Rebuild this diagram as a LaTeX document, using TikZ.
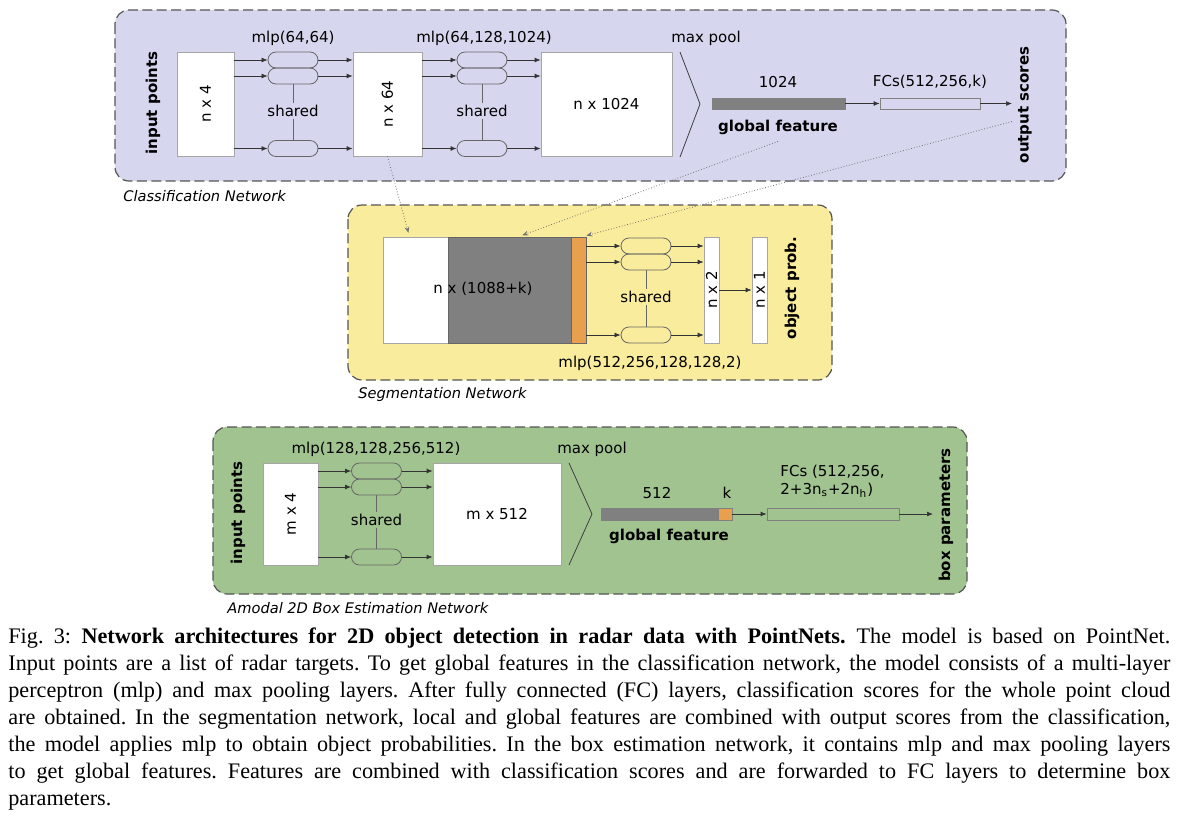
\documentclass[tikz,border=0pt]{standalone}
\usepackage{fontspec}
\setmainfont{Liberation Serif}
\newfontfamily\dvs{DejaVu Sans}
\usetikzlibrary{arrows.meta}
\definecolor{clsbg}{RGB}{214,214,238}
\definecolor{segbg}{RGB}{249,236,156}
\definecolor{boxbg}{RGB}{161,195,144}
\definecolor{feat}{RGB}{128,128,128}
\definecolor{score}{RGB}{233,160,78}
\definecolor{rim}{RGB}{85,85,85}

\begin{document}
\begin{tikzpicture}[x=0.5pt,y=-0.5pt,
		every node/.style={font=\dvs\fontsize{7.5}{9}\selectfont},
		panel/.style={draw=rim,line width=0.6pt,dash pattern=on 5pt off 2.2pt,rounded corners=7pt},
		blk/.style={draw=black!35,line width=0.35pt,fill=white,inner sep=0pt},
		pill/.style={draw=black!60,line width=0.4pt,rounded corners=4pt,minimum width=25pt,minimum height=8pt,inner sep=0pt},
		bar/.style={draw=black!50,line width=0.35pt,inner sep=0pt},
		flow/.style={draw=black!80,line width=0.35pt,-{Latex[length=3pt,width=2.4pt]}},
		link/.style={draw=black!55,line width=0.4pt,densely dotted,-{Stealth[length=3pt,width=2.4pt]},shorten >=2pt},
		boldlbl/.style={font=\dvs\bfseries\fontsize{7.5}{9}\selectfont},
		nettitle/.style={font=\dvs\itshape\fontsize{7.3}{9}\selectfont,anchor=west,inner sep=0pt},
		sharedtxt/.style={fill=#1,inner sep=1pt}]
	\useasboundingbox (0,0) rectangle (1179,826);
	
	% classification network
	\draw[panel,fill=clsbg] (115,10) rectangle (1066,181);
	\node[boldlbl,rotate=90] at (153,103) {input points};
	\node[blk,minimum width=28.5pt,minimum height=52pt] (cin) at (205.5,104) {\rotatebox{90}{n x 4}};
	\node[blk,minimum width=34.5pt,minimum height=52pt] (cf64) at (387.5,104) {\rotatebox{90}{n x 64}};
	\node[blk,minimum width=65.5pt,minimum height=52pt] (cf1024) at (606.5,104) {n x 1024};
	\node[pill] (ca1) at (293,60) {};
	\node[pill] (ca2) at (293,76) {};
	\node[pill] (ca3) at (293,148.5) {};
	\node[pill] (cb1) at (482,60) {};
	\node[pill] (cb2) at (482,76) {};
	\node[pill] (cb3) at (482,148.5) {};
	\draw[black!60,line width=0.4pt] (ca2) -- (ca3);
	\draw[black!60,line width=0.4pt] (cb2) -- (cb3);
	\node[sharedtxt=clsbg] at (293,111) {shared};
	\node[sharedtxt=clsbg] at (482,111) {shared};
	\node at (293,38) {mlp(64,64)};
	\node at (484,38) {mlp(64,128,1024)};
	\draw[flow] (cin.east |- ca1) -- (ca1);
	\draw[flow] (cin.east |- ca2) -- (ca2);
	\draw[flow] (cin.east |- ca3) -- (ca3);
	\draw[flow] (ca1) -- (cf64.west |- ca1);
	\draw[flow] (ca2) -- (cf64.west |- ca2);
	\draw[flow] (ca3) -- (cf64.west |- ca3);
	\draw[flow] (cf64.east |- cb1) -- (cb1);
	\draw[flow] (cf64.east |- cb2) -- (cb2);
	\draw[flow] (cf64.east |- cb3) -- (cb3);
	\draw[flow] (cb1) -- (cf1024.west |- cb1);
	\draw[flow] (cb2) -- (cf1024.west |- cb2);
	\draw[flow] (cb3) -- (cf1024.west |- cb3);
	\draw[black!75,line width=0.4pt] (680,52) -- (700,104) -- (680,157);
	\node at (706,38) {max pool};
	\node[bar,fill=feat,minimum width=66.5pt,minimum height=5.5pt] (cgf) at (778.5,103.5) {};
	\node at (778,82) {1024};
	\node[boldlbl] (cgflbl) at (778,127) {global feature};
	\node[bar,minimum width=50pt,minimum height=5.5pt] (cfc) at (930,103.5) {};
	\node at (930,82) {FCs(512,256,k)};
	\coordinate (cend) at (1012,103.5);
	\draw[flow] (cgf) -- (cfc);
	\draw[flow] (cfc) -- (cend);
	\node[boldlbl,rotate=90] at (1025,105) {output scores};
	\node[nettitle] at (123,196) {Classification Network};
	
	% segmentation network
	\draw[panel,fill=segbg] (348,205) rectangle (832,380);
	\node[blk,minimum width=32.5pt,minimum height=53pt] (sloc) at (415.5,290) {};
	\node[blk,draw=black!60,fill=feat,minimum width=61.5pt,minimum height=53pt] (sglob) at (509.5,290) {};
	\node[blk,draw=black!60,fill=score,minimum width=7.5pt,minimum height=53pt] (sscore) at (578.5,290) {};
	\node at (483,289) {n x (1088+k)};
	\node[pill] (sa1) at (646,246) {};
	\node[pill] (sa2) at (646,262) {};
	\node[pill] (sa3) at (646,335) {};
	\draw[black!60,line width=0.4pt] (sa2) -- (sa3);
	\node[sharedtxt=segbg] at (646,297) {shared};
	\node[blk,minimum width=7.5pt,minimum height=53pt] (sn2) at (711.5,290) {\rotatebox{90}{n x 2}};
	\node[blk,minimum width=7.5pt,minimum height=53pt] (sn1) at (759.5,290) {\rotatebox{90}{n x 1}};
	\draw[flow] (sscore.east |- sa1) -- (sa1);
	\draw[flow] (sscore.east |- sa2) -- (sa2);
	\draw[flow] (sscore.east |- sa3) -- (sa3);
	\draw[flow] (sa1) -- (sn2.west |- sa1);
	\draw[flow] (sa2) -- (sn2.west |- sa2);
	\draw[flow] (sa3) -- (sn2.west |- sa3);
	\draw[flow] (sn2) -- (sn1);
	\node[boldlbl,rotate=90] at (792,288) {object prob.};
	\node at (650,363) {mlp(512,256,128,128,2)};
	\node[nettitle] at (358,394) {Segmentation Network};
	
	% box estimation network
	\draw[panel,fill=boxbg] (213,427) rectangle (967,594);
	\node[boldlbl,rotate=90] at (238,513) {input points};
	\node[blk,minimum width=27.5pt,minimum height=51pt] (bin) at (290.5,514) {\rotatebox{90}{m x 4}};
	\node[blk,minimum width=64pt,minimum height=51pt] (bf512) at (497,514) {m x 512};
	\node[pill] (ba1) at (376.5,471) {};
	\node[pill] (ba2) at (376.5,487) {};
	\node[pill] (ba3) at (376.5,557) {};
	\draw[black!60,line width=0.4pt] (ba2) -- (ba3);
	\node[sharedtxt=boxbg] at (376.5,520) {shared};
	\node at (376,449) {mlp(128,128,256,512)};
	\draw[flow] (bin.east |- ba1) -- (ba1);
	\draw[flow] (bin.east |- ba2) -- (ba2);
	\draw[flow] (bin.east |- ba3) -- (ba3);
	\draw[flow] (ba1) -- (bf512.west |- ba1);
	\draw[flow] (ba2) -- (bf512.west |- ba2);
	\draw[flow] (ba3) -- (bf512.west |- ba3);
	\draw[black!75,line width=0.4pt] (569,463) -- (592,514) -- (569,565);
	\node at (592,449) {max pool};
	\node[bar,fill=feat,minimum width=58.5pt,minimum height=6pt] (bgf) at (659.5,514) {};
	\node[bar,fill=score,minimum width=7pt,minimum height=6pt] (bk) at (725,514) {};
	\node at (657,493) {512};
	\node at (727,493) {k};
	\node[boldlbl] at (669,536) {global feature};
	\node[bar,minimum width=66pt,minimum height=6pt] (bfc) at (833,514) {};
	\node[anchor=west,align=left,inner sep=0pt] at (780,481) {FCs (512,256,\\2+3n\textsubscript{s}+2n\textsubscript{h})};
	\coordinate (bend) at (933,514);
	\draw[flow] (bk) -- (bfc);
	\draw[flow] (bfc) -- (bend);
	\node[boldlbl,rotate=90] at (946,515) {box parameters};
	\node[nettitle] at (227,608) {Amodal 2D Box Estimation Network};
	
	% links between the networks
	\draw[link] (cf64.south) -- ([xshift=-3pt]sloc.north);
	\draw[link] (cgflbl.south) -- ([xshift=4.5pt]sglob.north);
	\draw[link] ([yshift=-9pt]cend) -- ([xshift=2pt]sscore.north);
	
	% caption
	\node[anchor=north west,inner sep=0pt,text width=581pt,align=justify,font=\rmfamily\frenchspacing\fontsize{11.1}{13.5}\selectfont] (cap) at (8,627) {Fig.~3: \textbf{Network architectures for 2D object detection in radar data with PointNets.}\enspace The model is based on PointNet.\linebreak
		Input points are a list of radar targets. To get global features in the classification network, the model consists of a multi-layer\linebreak
		perceptron (mlp) and max pooling layers. After fully connected (FC) layers, classification scores for the whole point cloud\linebreak
		are obtained. In the segmentation network, local and global features are combined with output scores from the classification,\linebreak
		the model applies mlp to obtain object probabilities. In the box estimation network, it contains mlp and max pooling layers\linebreak
		to get global features. Features are combined with classification scores and are forwarded to FC layers to determine box\linebreak
		parameters.};
\end{tikzpicture}
\end{document}
